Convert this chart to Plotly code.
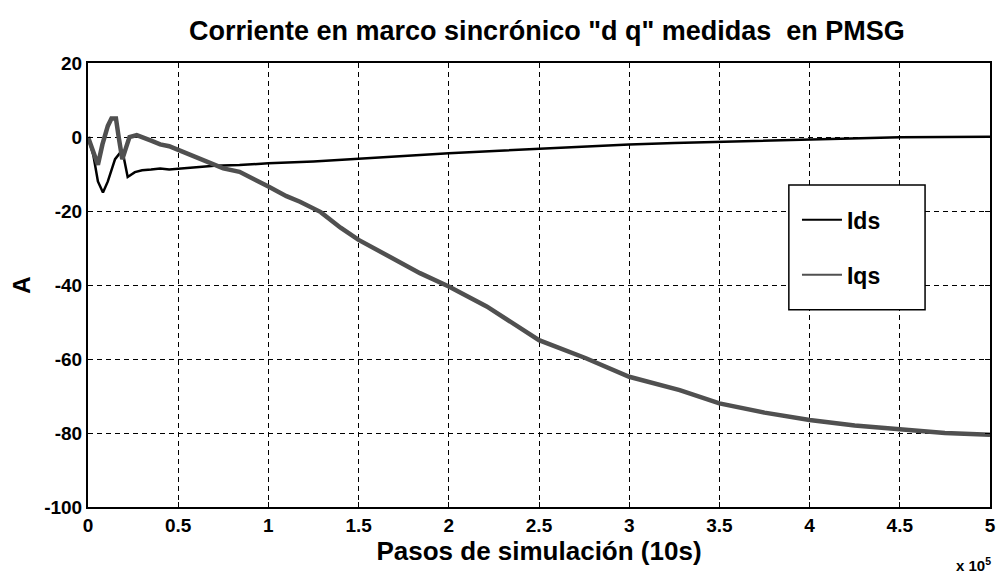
import plotly.graph_objects as go

# x in units of 1e5 simulation steps
ids_x = [0, 0.03, 0.055, 0.083, 0.11, 0.15, 0.19, 0.22, 0.26, 0.3, 0.35, 0.4, 0.45, 0.5, 0.55,
         0.6, 0.7, 0.84, 1.0, 1.25, 1.5, 1.75, 2.0, 2.28, 2.5, 2.75, 3.0, 3.25, 3.5, 3.75,
         4.0, 4.25, 4.5, 4.75, 5.0]
ids_y = [0, -5, -12, -15, -12, -6, -3.5, -10.8, -9.5, -9, -8.8, -8.5, -8.8, -8.6, -8.2,
         -8, -7.8, -7.6, -7.1, -6.6, -5.8, -5.1, -4.4, -3.7, -3.2, -2.5, -2.0, -1.6, -1.3, -0.9,
         -0.6, -0.3, -0.1, 0, 0.1]

iqs_x = [0, 0.03, 0.055, 0.08, 0.11, 0.13, 0.155, 0.17, 0.19, 0.21, 0.23, 0.27, 0.3, 0.35,
         0.4, 0.45, 0.5, 0.55, 0.6, 0.68, 0.75, 0.84, 0.95, 1.0, 1.1, 1.175, 1.29, 1.4, 1.5,
         1.67, 1.84, 2.0, 2.21, 2.5, 2.76, 3.0, 3.28, 3.5, 3.75, 4.0, 4.25, 4.5, 4.75, 5.0]
iqs_y = [0, -4, -7.5, -2, 3, 5, 5, 0, -6, -3, 0, 0.5, 0, -1,
         -2, -2.5, -3.5, -4.5, -5.5, -7, -8.5, -9.4, -12, -13.4, -16, -17.5, -20.3, -24.5, -27.8,
         -32.3, -36.8, -40.4, -45.8, -54.9, -59.8, -64.8, -68.4, -72, -74.5, -76.5, -78, -79, -80, -80.5]

x_ticks = [0, 0.5, 1, 1.5, 2, 2.5, 3, 3.5, 4, 4.5, 5]
x_tick_labels = ["0", "0.5", "1", "1.5", "2", "2.5", "3", "3.5", "4", "4.5", "5"]
y_ticks = [20, 0, -20, -40, -60, -80, -100]
y_tick_labels = ["20", "0", "-20", "-40", "-60", "-80", "-100"]

FONT = "Liberation Sans Narrow, Liberation Sans, Arial, sans-serif"
IDS_COLOR = "#000000"
IQS_COLOR = "#505050"

fig = go.Figure()
fig.add_trace(go.Scatter(x=ids_x, y=ids_y, mode="lines", name="Ids", showlegend=False,
                         line=dict(color=IDS_COLOR, width=2.5)))
fig.add_trace(go.Scatter(x=iqs_x, y=iqs_y, mode="lines", name="Iqs", showlegend=False,
                         line=dict(color=IQS_COLOR, width=4.5)))
# legend entries (thin sample lines, as in the reference)
fig.add_trace(go.Scatter(x=[None], y=[None], mode="lines", name="Ids", legendgroup="a",
                         line=dict(color=IDS_COLOR, width=2)))
fig.add_trace(go.Scatter(x=[None], y=[None], mode="lines", name="Iqs", legendgroup="b",
                         line=dict(color=IQS_COLOR, width=2)))

axis_common = dict(
    showline=True, linecolor="black", linewidth=2, mirror="allticks",
    ticks="inside", ticklen=5, tickcolor="black",
    showgrid=True, gridcolor="black", gridwidth=1, griddash="5px,4px",
    zeroline=False, automargin=False,
    tickfont=dict(family=FONT, size=19, color="black", weight="bold"),
)

fig.update_layout(
    width=998, height=572,
    margin=dict(l=80, r=16, t=55, b=73),
    paper_bgcolor="white", plot_bgcolor="white",
    title=dict(text="Corriente en marco sincrónico \"d q\" medidas  en PMSG",
               x=0.54, xanchor="center", y=0.96, yanchor="middle",
               font=dict(family=FONT, size=27, color="black", weight="bold")),
    xaxis=dict(range=[0, 5], tickvals=x_ticks, ticktext=x_tick_labels,
               title=dict(text="Pasos de simulación (10s)", standoff=0,
                          font=dict(family=FONT, size=26, color="black", weight="bold")),
               **axis_common),
    yaxis=dict(range=[-100, 20], tickvals=y_ticks, ticktext=y_tick_labels,
               title=dict(text="A", standoff=18,
                          font=dict(family=FONT, size=24, color="black", weight="bold")),
               **axis_common),
    legend=dict(x=0.786, y=0.695, xanchor="left", yanchor="top",
                bgcolor="rgba(0,0,0,0)", borderwidth=0,
                tracegroupgap=22, itemwidth=40,
                font=dict(family=FONT, size=23, color="black", weight="bold")),
    showlegend=True,
    shapes=[dict(type="rect", xref="paper", yref="paper",
                 x0=0.777, x1=0.928, y0=0.444, y1=0.725,
                 line=dict(color="black", width=1.5), fillcolor="white", layer="above")],
)

fig.add_annotation(text="x 10<sup>5</sup>", xref="paper", yref="paper",
                   x=1.003, y=-0.13, xanchor="right", yanchor="middle", showarrow=False,
                   font=dict(family=FONT, size=15, color="black", weight="bold"))

fig.write_html("out.html")
